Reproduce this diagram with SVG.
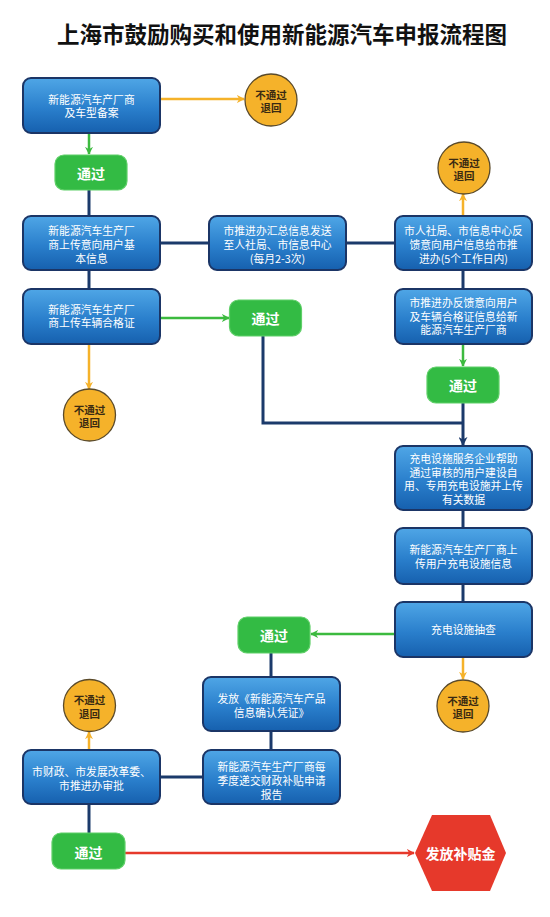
<svg xmlns="http://www.w3.org/2000/svg" width="550" height="917" viewBox="0 0 550 917">
<defs>
<linearGradient id="blueGrad" x1="0" y1="0" x2="0" y2="1">
<stop offset="0" stop-color="#4fa6e6"/>
<stop offset="0.55" stop-color="#2a7fcc"/>
<stop offset="1" stop-color="#1660ae"/>
</linearGradient>
<marker id="arrG" viewBox="0 0 10 10" refX="9" refY="5" markerWidth="8" markerHeight="8" markerUnits="userSpaceOnUse" orient="auto"><path d="M0,0 L10,5 L0,10 L3,5 z" fill="#3cba3f"/></marker>
<marker id="arrO" viewBox="0 0 10 10" refX="9" refY="5" markerWidth="8" markerHeight="8" markerUnits="userSpaceOnUse" orient="auto"><path d="M0,0 L10,5 L0,10 L3,5 z" fill="#f5b22a"/></marker>
<marker id="arrN" viewBox="0 0 10 10" refX="9" refY="5" markerWidth="9" markerHeight="9" markerUnits="userSpaceOnUse" orient="auto"><path d="M0,0 L10,5 L0,10 L3,5 z" fill="#1b3a6b"/></marker>
<marker id="arrR" viewBox="0 0 10 10" refX="9" refY="5" markerWidth="8" markerHeight="8" markerUnits="userSpaceOnUse" orient="auto"><path d="M0,0 L10,5 L0,10 L3,5 z" fill="#e6392b"/></marker>
</defs>
<style>
text{font-family:"Noto Sans CJK SC","Noto Sans",sans-serif;dominant-baseline:central;text-anchor:middle}
.title{font-size:22.5px;font-weight:700;fill:#111}
.node rect{fill:url(#blueGrad);stroke:#1b3566;stroke-width:2}
.node text{font-size:10.8px;fill:#ffffff}
.pass rect{fill:#33bb44;stroke:#5fcf68;stroke-width:1.2}
.pass text{font-size:14px;font-weight:700;fill:#ffffff}
.fail circle{fill:#f5b22a;stroke:#5a4a2a;stroke-width:1.3}
.fail text{font-size:10.5px;font-weight:700;fill:#3a2a12}
.navy{stroke:#1b3a6b;stroke-width:3;fill:none}
.green{stroke:#3cba3f;stroke-width:2.5;fill:none}
.orange{stroke:#f5b22a;stroke-width:2.5;fill:none}
.red{stroke:#e6392b;stroke-width:2.5;fill:none}
</style>
<rect width="550" height="917" fill="#ffffff"/>
<text class="title" x="282" y="33">上海市鼓励购买和使用新能源汽车申报流程图</text>

<g id="connectors">
<path class="orange" d="M160,99 H244" marker-end="url(#arrO)"/>
<path class="green" d="M89,133 V154" marker-end="url(#arrG)"/>
<path class="navy" d="M89,190 V216"/>
<path class="navy" d="M160,243 H209"/>
<path class="navy" d="M346,243 H395"/>
<path class="orange" d="M463,216 V194" marker-end="url(#arrO)"/>
<path class="navy" d="M89,270 V289"/>
<path class="navy" d="M463,270 V289"/>
<path class="green" d="M160,318 H229" marker-end="url(#arrG)"/>
<path class="orange" d="M89,344 V389" marker-end="url(#arrO)"/>
<path class="green" d="M463,344 V366" marker-end="url(#arrG)"/>
<path class="navy" d="M263,336 V423 H463"/>
<path class="navy" d="M463,403 V445" marker-end="url(#arrN)"/>
<path class="navy" d="M463,510 V528"/>
<path class="navy" d="M463,584 V602"/>
<path class="green" d="M395,634 H311" marker-end="url(#arrG)"/>
<path class="orange" d="M463,657 V679" marker-end="url(#arrO)"/>
<path class="navy" d="M271,653 V677"/>
<path class="navy" d="M271,731 V750"/>
<path class="navy" d="M203,777 H160"/>
<path class="orange" d="M89,750 V732" marker-end="url(#arrO)"/>
<path class="navy" d="M89,804 V833"/>
<path class="red" d="M125,853 H414" marker-end="url(#arrR)"/>
</g>

<g id="n1" class="node"><rect x="23" y="78" width="137" height="55" rx="8"/><text><tspan x="91.5" y="98.5">新能源汽车产厂商</tspan><tspan x="91.5" y="112">及车型备案</tspan></text></g>
<g id="f1" class="fail"><circle cx="271" cy="100" r="26"/><text><tspan x="271" y="93.5">不通过</tspan><tspan x="271" y="107">退回</tspan></text></g>
<g id="p1" class="pass"><rect x="55" y="155" width="72" height="35" rx="9"/><text x="91" y="173">通过</text></g>

<g id="n2" class="node"><rect x="23" y="216" width="137" height="54" rx="8"/><text><tspan x="91.5" y="229.5">新能源汽车生产厂</tspan><tspan x="91.5" y="243.5">商上传意向用户基</tspan><tspan x="91.5" y="257.5">本信息</tspan></text></g>
<g id="n3" class="node"><rect x="209" y="216" width="137" height="54" rx="8"/><text><tspan x="277.5" y="229.5">市推进办汇总信息发送</tspan><tspan x="277.5" y="243.5">至人社局、市信息中心</tspan><tspan x="277.5" y="257.5">(每月2-3次)</tspan></text></g>
<g id="n4" class="node"><rect x="395" y="216" width="137" height="54" rx="8"/><text><tspan x="463.5" y="229.5">市人社局、市信息中心反</tspan><tspan x="463.5" y="243.5">馈意向用户信息给市推</tspan><tspan x="463.5" y="257.5">进办(5个工作日内)</tspan></text></g>
<g id="f2" class="fail"><circle cx="464" cy="168" r="26"/><text><tspan x="464" y="161.5">不通过</tspan><tspan x="464" y="175">退回</tspan></text></g>

<g id="n5" class="node"><rect x="23" y="289" width="137" height="55" rx="8"/><text><tspan x="91.5" y="308.5">新能源汽车生产厂</tspan><tspan x="91.5" y="322">商上传车辆合格证</tspan></text></g>
<g id="p2" class="pass"><rect x="229.5" y="300" width="72" height="36" rx="9"/><text x="265.5" y="318">通过</text></g>
<g id="n6" class="node"><rect x="395" y="289" width="137" height="55" rx="8"/><text><tspan x="463.5" y="302">市推进办反馈意向用户</tspan><tspan x="463.5" y="315.5">及车辆合格证信息给新</tspan><tspan x="463.5" y="329">能源汽车生产厂商</tspan></text></g>
<g id="p3" class="pass"><rect x="427" y="367" width="72" height="36" rx="9"/><text x="463" y="385">通过</text></g>
<g id="f3" class="fail"><circle cx="89.5" cy="415" r="26"/><text><tspan x="89.5" y="408.5">不通过</tspan><tspan x="89.5" y="422">退回</tspan></text></g>

<g id="n7" class="node"><rect x="395" y="446" width="137" height="64" rx="8"/><text><tspan x="463.5" y="458">充电设施服务企业帮助</tspan><tspan x="463.5" y="471.5">通过审核的用户建设自</tspan><tspan x="463.5" y="485">用、专用充电设施并上传</tspan><tspan x="463.5" y="498.5">有关数据</tspan></text></g>
<g id="n8" class="node"><rect x="395" y="528" width="137" height="56" rx="8"/><text><tspan x="463.5" y="548.5">新能源汽车生产厂商上</tspan><tspan x="463.5" y="562.5">传用户充电设施信息</tspan></text></g>
<g id="n9" class="node"><rect x="395" y="602" width="137" height="55" rx="8"/><text x="463.5" y="628.5">充电设施抽查</text></g>
<g id="p4" class="pass"><rect x="238" y="617" width="72" height="36" rx="9"/><text x="274" y="635">通过</text></g>
<g id="f4" class="fail"><circle cx="463" cy="706" r="26"/><text><tspan x="463" y="699.5">不通过</tspan><tspan x="463" y="713">退回</tspan></text></g>

<g id="n10" class="node"><rect x="203" y="677" width="137" height="54" rx="8"/><text><tspan x="271.5" y="697.5">发放《新能源汽车产品</tspan><tspan x="271.5" y="711.5">信息确认凭证》</tspan></text></g>
<g id="f5" class="fail"><circle cx="89.5" cy="705.5" r="26"/><text><tspan x="89.5" y="699">不通过</tspan><tspan x="89.5" y="712.5">退回</tspan></text></g>

<g id="n11" class="node"><rect x="23" y="750" width="137" height="54" rx="8"/><text><tspan x="91.5" y="770.5">市财政、市发展改革委、</tspan><tspan x="91.5" y="784.5">市推进办审批</tspan></text></g>
<g id="n12" class="node"><rect x="203" y="750" width="137" height="54" rx="8"/><text><tspan x="271.5" y="765.5">新能源汽车生产厂商每</tspan><tspan x="271.5" y="779.5">季度递交财政补贴申请</tspan><tspan x="271.5" y="793.5">报告</tspan></text></g>
<g id="p5" class="pass"><rect x="52" y="833" width="73" height="36" rx="9"/><text x="88.5" y="851.5">通过</text></g>
<g id="end"><polygon points="432,815 490,815 506,853 490,891 432,891 415,853" fill="#e6392b"/><text x="460.5" y="852.5" style="font-size:14px;font-weight:700;fill:#ffffff">发放补贴金</text></g>
</svg>
